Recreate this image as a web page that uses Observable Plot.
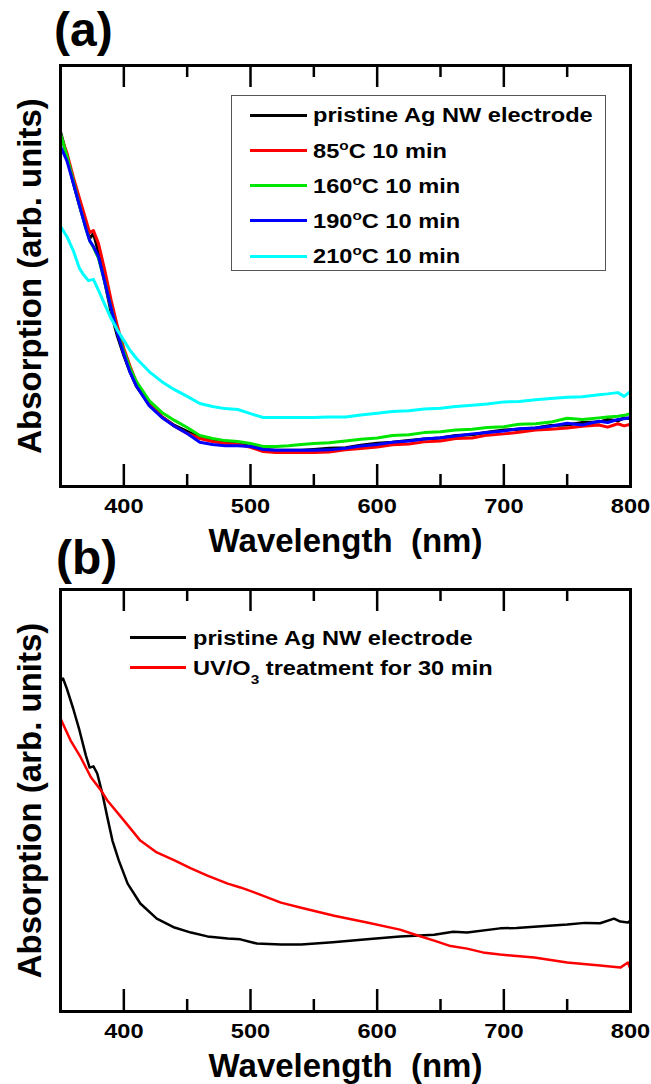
<!DOCTYPE html>
<html><head><meta charset="utf-8">
<script src="https://cdn.jsdelivr.net/npm/d3@7"></script>
<script src="https://cdn.jsdelivr.net/npm/@observablehq/plot@0.6"></script>
<style>
body{margin:0;background:#fff;}
#wrap{position:relative;width:651px;height:1084px;font-family:"Liberation Sans",Arial,sans-serif;font-weight:bold;color:#000;}
.panel{position:absolute;left:0;width:651px;}
.tag{position:absolute;font-size:48px;line-height:48px;}
.box{position:absolute;border:1.5px solid #555;box-sizing:border-box;}
.sw{position:absolute;height:3px;}
.lt{position:absolute;font-size:20px;line-height:20px;white-space:nowrap;transform:scaleX(1.18);transform-origin:0 0;}
.sup{position:relative;top:-8px;font-size:13px;}
.sub{position:relative;top:9px;font-size:13px;}
</style></head>
<body><div id="wrap"></div>
<script>
// ---------- data: panel (a) ----------
const waveA = [350,355,360,365,370,373,376,380,385,390,395,400,405,410,420,430,440,450,460,470,480,490,500,510,520,530,540,550,
  562,575,587,600,612,625,637,650,662,675,687,700,712,725,737,750,762,775,782,790,795,800];
const pristineA = [84.3,78.6,72.2,66.7,61.8,58.9,60.1,55.6,48.5,41.3,35.6,31.1,27.1,23.8,19.5,16.6,14.5,13.1,11.6,10.9,10.5,10.2,9.5,8.8,8.6,8.6,8.6,8.8,
  9.1,9.2,9.8,10.3,10.5,10.9,11.3,11.5,12.1,12.3,12.9,13.4,13.6,13.9,14.5,14.6,15.2,15.3,15.9,15.6,16.3,16.1];
const c85A = [83.4,79.3,73.6,68.4,63.4,60.3,60.8,57.7,51.3,44.2,38.0,32.8,28.5,24.7,20.0,16.6,14.3,12.6,11.4,10.7,10.2,10.0,9.3,8.3,8.1,8.1,8.1,8.1,
  8.2,8.7,9.0,9.4,9.9,10.1,10.6,10.8,11.4,11.5,12.2,12.5,12.9,13.4,13.6,13.9,14.3,14.6,14.1,14.9,14.4,14.8];
const c160A = [83.8,78.6,72.7,66.7,61.3,58.4,56.8,54.2,48.5,42.3,36.6,32.1,28.0,24.9,20.4,17.6,15.7,14.0,12.1,11.4,10.9,10.7,10.2,9.5,9.5,9.7,10.0,10.2,
  10.4,10.8,11.2,11.5,12.1,12.3,12.8,13.0,13.4,13.6,14.0,14.2,14.8,14.9,15.3,16.2,15.9,16.3,16.5,16.7,16.9,17.3];
const c190A = [80.8,77.4,72.2,66.7,61.3,58.4,57.0,54.6,48.5,42.3,36.3,31.4,27.1,23.8,19.2,16.4,14.3,12.6,10.5,10.0,9.7,9.7,9.5,8.8,8.6,8.6,8.6,8.6,
  8.7,9.1,9.6,10.0,10.5,10.8,11.3,11.6,12.0,12.5,12.8,13.2,13.7,13.9,14.3,15.0,14.6,15.5,15.2,15.9,16.1,16.4];
const waveCyan = [350,355,360,365,368,372,376,380,385,390,395,400,405,410,420,430,440,450,460,470,480,490,500,510,520,530,540,550,
  562,575,587,600,612,625,637,650,662,675,687,700,712,725,737,750,762,775,782,790,795,800];
const c210A = [61.8,59.4,56.1,51.8,50.4,48.9,49.2,46.6,43.2,39.9,37.1,34.7,32.3,30.4,27.3,24.9,23.0,21.4,19.7,19.0,18.5,18.3,17.3,16.4,16.4,16.4,16.4,16.4,
  16.5,16.5,17.0,17.4,17.8,18.0,18.4,18.6,19.0,19.3,19.6,20.1,20.2,20.6,20.9,21.2,21.3,21.8,22.0,22.3,21.4,22.6];

// ---------- data: panel (b) ----------
const waveB1 = [350,352,355,360,365,370,373,376,379,383,387,391,396,403,413,426,440,453,466,482,492,505,524,540,565,592,618,645,660,671,697,710,724,750,764,776,787,792,798,800];
const pristineB = [78.4,78.9,76.5,71.8,66.6,60.7,57.8,58.1,56.4,51.7,46.0,40.5,35.8,30.3,25.6,22.0,19.9,18.7,17.8,17.3,17.1,16.1,15.9,15.9,16.4,17.1,17.8,18.2,18.9,18.7,19.7,19.8,20.1,20.6,21.0,20.9,22.0,21.3,21.1,21.6];
const waveB2 = [350,358,366,374,382,387,400,413,426,440,453,466,482,492,505,524,540,566,592,618,632,645,658,671,685,697,724,750,776,792,798,800];
const uvB = [69.4,64.2,60.2,55.5,52.4,50.0,45.3,40.5,37.7,35.8,33.9,32.2,30.3,29.4,28.0,25.8,24.6,22.7,21.1,19.4,18.0,16.8,15.5,14.9,13.9,13.5,12.8,11.6,10.9,10.4,11.6,10.0];

// ---------- labels ----------
const majorTicks = [400,500,600,700,800];
const minorTicks = [450,550,650,750];
const xTitle = "Wavelength\u00a0 (nm)";
const yTitle = "Absorption (arb. units)";
const legendA = [
  {html:"pristine Ag NW electrode", color:"#000000"},
  {html:"85<span class='sup'>o</span>C 10 min", color:"#ff0000"},
  {html:"160<span class='sup'>o</span>C 10 min", color:"#00e600"},
  {html:"190<span class='sup'>o</span>C 10 min", color:"#0000ff"},
  {html:"210<span class='sup'>o</span>C 10 min", color:"#00ffff"}
];
const legendB = [
  {html:"pristine Ag NW electrode", color:"#000000"},
  {html:"UV/O<span class='sub'>3</span> treatment for 30 min", color:"#ff0000"}
];

const zip = (w, a) => w.map((x, i) => ({w: x, a: a[i]}));

function panel(series, lineWidth, height, mt, mb) {
  const H = height - mt - mb;
  const marks = series.map(s => Plot.line(zip(s.w, s.a), {x: "w", y: "a", stroke: s.color, strokeWidth: lineWidth, curve: "linear"}));
  marks.push(
    Plot.frame({strokeWidth: 3, stroke: "black"}),
    Plot.tickX(majorTicks, {x: d => d, insetTop: H - 22, strokeWidth: 2.5, stroke: "black"}),
    Plot.tickX(minorTicks, {x: d => d, insetTop: H - 12, strokeWidth: 2.5, stroke: "black"}),
    Plot.tickX(majorTicks, {x: d => d, insetBottom: H - 22, strokeWidth: 2.5, stroke: "black"}),
    Plot.tickX(minorTicks, {x: d => d, insetBottom: H - 12, strokeWidth: 2.5, stroke: "black"}),
    Plot.axisX({ticks: majorTicks, tickSize: 0, tickPadding: 12, fontSize: 20, label: null}),
    Plot.text([xTitle], {frameAnchor: "bottom", lineAnchor: "middle", textAnchor: "middle", dy: 54.5, fontSize: 33, fontWeight: "bold"}),
    Plot.text([yTitle], {frameAnchor: "left", lineAnchor: "middle", textAnchor: "middle", rotate: -90, dx: -30.5, fontSize: 33, fontWeight: "bold"})
  );
  const svg = Plot.plot({
    width: 651, height, marginTop: mt, marginBottom: mb, marginLeft: 60, marginRight: 21,
    x: {domain: [350, 800]},
    y: {domain: [0, 100], axis: null},
    style: {fontFamily: "'Liberation Sans', Arial, sans-serif", fontWeight: "bold", fontSize: "20px", background: "white", color: "black"},
    marks
  });
  svg.querySelectorAll('g[aria-label="x-axis tick label"] text').forEach(t => {
    t.setAttribute("transform", (t.getAttribute("transform") || "") + " scale(1.18,1)");
  });
  return svg;
}

const wrap = document.getElementById("wrap");
function place(el, top) { const d = document.createElement("div"); d.className = "panel"; d.style.top = top + "px"; d.appendChild(el); wrap.appendChild(d); }

place(panel([
  {w: waveA, a: pristineA, color: "#000000"},
  {w: waveA, a: c85A, color: "#ff0000"},
  {w: waveA, a: c160A, color: "#00e600"},
  {w: waveA, a: c190A, color: "#0000ff"},
  {w: waveCyan, a: c210A, color: "#00ffff"}
], 3, 560, 65, 74), 0);

place(panel([
  {w: waveB1, a: pristineB, color: "#000000"},
  {w: waveB2, a: uvB, color: "#ff0000"}
], 2.5, 524, 29, 73), 560);

function addEl(cls, css, html) { const d = document.createElement("div"); d.className = cls; Object.assign(d.style, css); if (html) d.innerHTML = html; wrap.appendChild(d); return d; }

addEl("tag", {left: "54px", top: "6px"}, "(a)");
addEl("tag", {left: "56px", top: "534px"}, "(b)");

addEl("box", {left: "231px", top: "95px", width: "375px", height: "176px"});
legendA.forEach((r, i) => {
  const y = 115 + i * 35.3;
  addEl("sw", {left: "250px", width: "57px", top: (y - 1.5) + "px", background: r.color});
  addEl("lt", {left: "313px", top: (y - 9.75) + "px"}, r.html);
});
legendB.forEach((r, i) => {
  const y = 637.7 + i * 30;
  addEl("sw", {left: "130px", width: "56px", top: (y - 1.5) + "px", background: r.color});
  addEl("lt", {left: "193px", top: (y - 9.75) + "px"}, r.html);
});
</script>
</body></html>
